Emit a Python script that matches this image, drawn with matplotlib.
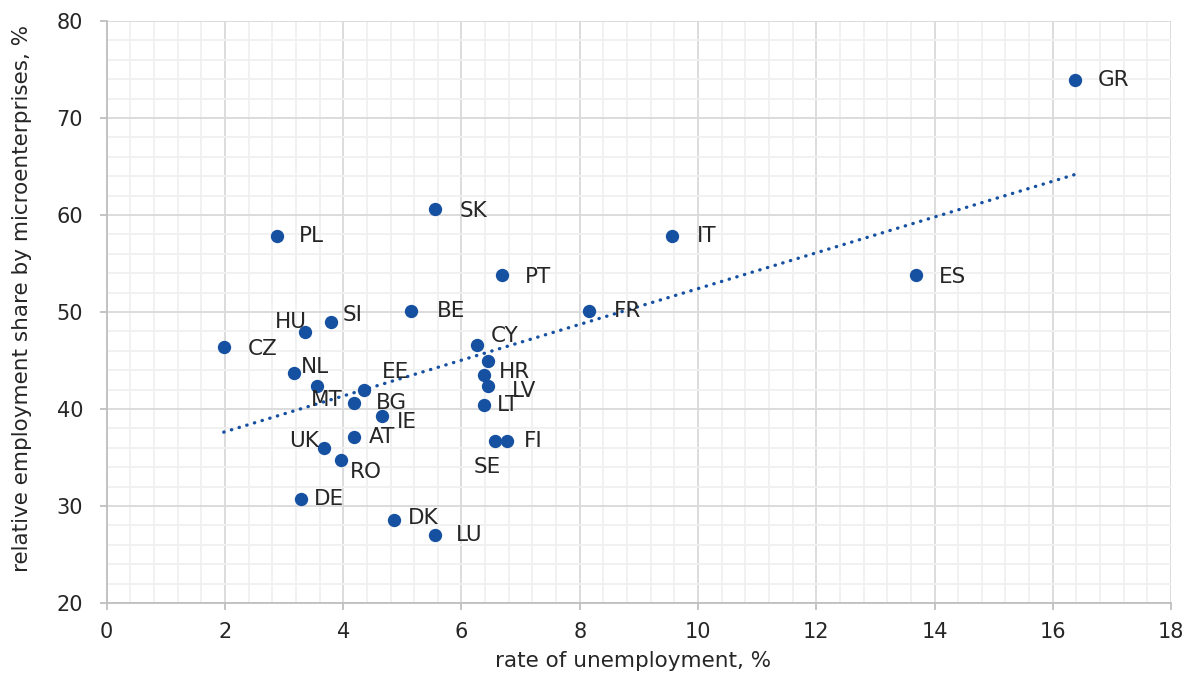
import matplotlib
matplotlib.use('Agg')
import matplotlib.pyplot as plt
from matplotlib.ticker import MultipleLocator
import numpy as np

plt.rcParams['font.family'] = ['DejaVu Sans']

# country codes, unemployment rate (%), employment share of microenterprises (%)
countries = ['GR', 'SK', 'PL', 'IT', 'PT', 'ES', 'FR', 'SI', 'HU', 'BE',
             'CZ', 'CY', '', 'NL', 'EE', 'HR', 'LV', 'MT', 'BG', 'LT',
             'IE', 'FI', 'UK', 'AT', 'SE', 'RO', 'DE', 'DK', 'LU']
unemployment = [16.38, 5.55, 2.88, 9.56, 6.68, 13.68, 8.15, 3.79, 3.35, 5.14,
                1.98, 6.27, 6.45, 3.17, 4.36, 6.38, 6.45, 3.56, 4.18, 6.38,
                4.65, 6.77, 3.67, 4.18, 6.56, 3.97, 3.28, 4.86, 5.55]
micro_share = [73.9, 60.6, 57.8, 57.8, 53.8, 53.8, 50.1, 49.0, 47.9, 50.1,
               46.4, 46.6, 45.0, 43.7, 42.0, 43.5, 42.4, 42.4, 40.6, 40.4,
               39.3, 36.7, 36.0, 37.1, 36.7, 34.7, 30.7, 28.6, 27.0]

# label placement (pixel offsets from the dot, alignment)
label_pos = {
    'GR': (23, 0, 'left'), 'SK': (25, -2, 'left'), 'PL': (22, 0, 'left'),
    'IT': (25, 0, 'left'), 'PT': (23, -2, 'left'), 'ES': (23, -2, 'left'),
    'FR': (25, 0, 'left'), 'SI': (12, 7, 'left'), 'HU': (2, 10, 'right'),
    'BE': (26, 0, 'left'), 'CZ': (24, -2, 'left'), 'CY': (13, 9, 'left'),
    'NL': (7, 6, 'left'), 'EE': (17, 18, 'left'), 'HR': (15, 3, 'left'),
    'LV': (24, -5, 'left'), 'MT': (-6, -14, 'left'), 'BG': (22, 0, 'left'),
    'LT': (13, 0, 'left'), 'IE': (15, -6, 'left'), 'FI': (17, 0, 'left'),
    'UK': (-5, 7, 'right'), 'AT': (15, 0, 'left'), 'SE': (-7, -26, 'center'),
    'RO': (8, -12, 'left'), 'DE': (13, 0, 'left'), 'DK': (14, 2, 'left'),
    'LU': (21, 0, 'left'),
}

blue = '#1550A1'
text_col = '#262626'
fs = 15.5

fig = plt.figure(figsize=(11.92, 6.82), dpi=100)
ax = fig.add_axes([0.0895, 0.1158, 0.8929, 0.8534])

x = np.array(unemployment)
y = np.array(micro_share)

# linear trend line over the data range
slope, intercept = np.polyfit(x, y, 1)
xs = np.array([x.min(), x.max()])
ax.plot(xs, slope * xs + intercept, color=blue, linewidth=2.4,
        linestyle=(0, (0.1, 2.3)), dash_capstyle='round', zorder=3)

ax.scatter(x, y, s=92, color=blue, zorder=4, linewidths=0)

for name, xi, yi in zip(countries, unemployment, micro_share):
    if not name:
        continue
    dx, dy, ha = label_pos[name]
    ax.annotate(name, (xi, yi), xytext=(dx, dy), textcoords='offset pixels',
                ha=ha, va='center', fontsize=fs, color=text_col, zorder=5)

ax.set_xlim(0, 18)
ax.set_ylim(20, 80)
ax.xaxis.set_major_locator(MultipleLocator(2))
ax.xaxis.set_minor_locator(MultipleLocator(0.4))
ax.yaxis.set_major_locator(MultipleLocator(10))
ax.yaxis.set_minor_locator(MultipleLocator(2))

ax.grid(which='major', color='#D9D9D9', linewidth=1.3, zorder=0)
ax.grid(which='minor', color='#F0F0F0', linewidth=1.3, zorder=0)
ax.set_axisbelow(True)

for s in ['top', 'right']:
    ax.spines[s].set_visible(False)
for s in ['left', 'bottom']:
    ax.spines[s].set_color('#BFBFBF')
    ax.spines[s].set_linewidth(1.3)

ax.tick_params(which='major', length=5, width=1.3, color='#BFBFBF',
               labelsize=15, labelcolor=text_col)
ax.tick_params(axis='y', pad=12)
ax.tick_params(axis='x', pad=9)
ax.tick_params(which='minor', length=0)

ax.set_xlabel('rate of unemployment, %', fontsize=fs, color=text_col)
ax.set_ylabel('relative employment share by microenterprises, %', fontsize=fs,
              color=text_col)
ax.xaxis.set_label_coords(0.4945, -0.0997)
ax.yaxis.set_label_coords(-0.0796, 0.524)
ax.xaxis.label.set_va('center')
ax.yaxis.label.set_va('center')

fig.savefig('out.png', dpi=100)
